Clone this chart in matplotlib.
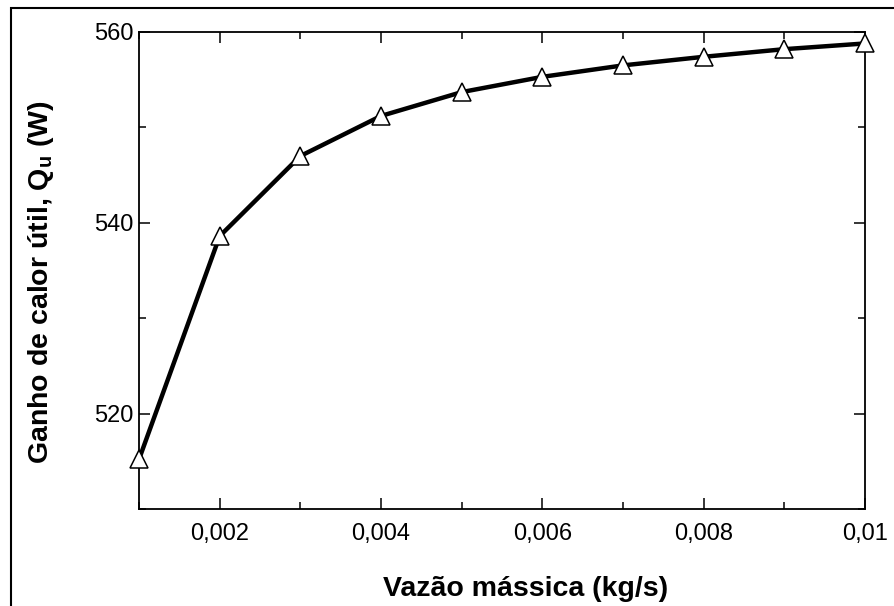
import matplotlib
matplotlib.use("Agg")
import matplotlib.pyplot as plt
from matplotlib.patches import Rectangle
from matplotlib.ticker import MultipleLocator, FuncFormatter

plt.rcParams['font.family'] = ['Liberation Sans', 'DejaVu Sans']
plt.rcParams['mathtext.fontset'] = 'custom'
plt.rcParams['mathtext.rm'] = 'Liberation Sans'
plt.rcParams['mathtext.bf'] = 'Liberation Sans:bold'

# mass flow rate (kg/s) and useful heat gain (W)
vazao = [0.001, 0.002, 0.003, 0.004, 0.005, 0.006, 0.007, 0.008, 0.009, 0.010]
ganho = [515.2, 538.6, 547.0, 551.2, 553.7, 555.3, 556.5, 557.4, 558.2, 558.8]

fig = plt.figure(figsize=(8.94, 6.06), dpi=100)
ax = fig.add_axes([139/894, 1 - 509/606, (865 - 139)/894, (509 - 32)/606])

# outer frame, cut off on right and bottom like the original
fig.patches.append(Rectangle((11/894, -0.2), 2, 1 - 8/606 + 0.2, transform=fig.transFigure,
                             fill=False, lw=1.5, ec='black', zorder=0))

ax.plot(vazao, ganho, color='black', lw=3.2, marker='^', ms=12.5,
        mfc='white', mec='black', mew=1.1, clip_on=False, zorder=3)

ax.set_xlim(0.001, 0.01)
ax.set_ylim(510, 560)
ax.xaxis.set_major_locator(MultipleLocator(0.002))
ax.xaxis.set_minor_locator(MultipleLocator(0.001))
ax.yaxis.set_major_locator(MultipleLocator(20))
ax.yaxis.set_minor_locator(MultipleLocator(10))
ax.xaxis.set_major_formatter(FuncFormatter(lambda v, p: f"{v:g}".replace('.', ',')))

ax.tick_params(which='both', direction='in', top=True, right=True, width=1.1)
ax.tick_params(which='major', length=8, labelsize=17)
ax.tick_params(axis='x', which='major', pad=10)
ax.tick_params(axis='y', which='major', pad=4)
ax.tick_params(which='minor', length=5)
for s in ax.spines.values():
    s.set_linewidth(1.3)

fig.text(526/894, 1 - 589/606, 'Vazão mássica (kg/s)', ha='center', va='center',
         fontsize=20.5, fontweight='bold')
fig.text(41/894, 1 - 282/606, r'Ganho de calor útil, $\mathbf{Q_u}$ (W)', ha='center', va='center',
         rotation=90, fontsize=20.5, fontweight='bold')

fig.savefig('out.png', dpi=100)
